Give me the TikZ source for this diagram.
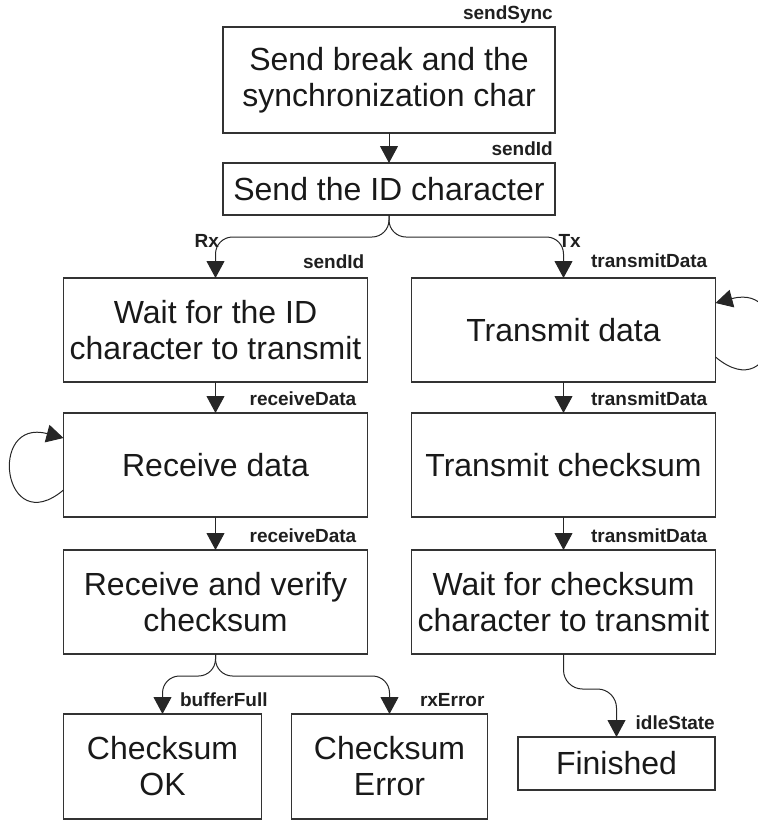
\documentclass[tikz,border=0pt]{standalone}
\usepackage{fontspec}
\setmainfont{Liberation Sans}
\usetikzlibrary{arrows.meta,positioning}

\begin{document}
\begin{tikzpicture}[x=1pt,y=1pt,
  state/.style={draw=black!80,line width=1.3pt,text=black!90,align=center,inner sep=1pt,outer sep=0pt,
    font=\fontsize{32}{36}\selectfont,minimum width=304pt,minimum height=104pt},
  lbl/.style={font=\fontsize{19}{21}\selectfont\bfseries,text=black!88,inner sep=0pt},
  toplbl/.style={lbl,anchor=base east,yshift=8pt},
  arrow/.style={-{Triangle[length=17pt,width=18pt]},line width=1pt,black!85},
  forkarrow/.style={arrow,rounded corners=17pt}]
\useasboundingbox (0,0) rectangle (758,-820);
\clip (0,0) rectangle (758,-820);
\node[state,minimum width=332pt,minimum height=106pt] (sync) at (389,-80)
  {Send break and the\\synchronization char};
\node[state,minimum width=332pt,minimum height=52pt,below=30pt of sync] (sendid) {Send the ID character};
\node[state,below=63pt of sendid,xshift=-173.5pt] (waitid) {Wait for the ID\\character to transmit};
\node[state,right=44pt of waitid] (txdata) {Transmit data};
\node[state,below=31pt of waitid] (recv) {Receive data};
\node[state,below=33pt of recv] (verify) {Receive and verify\\checksum};
\node[state,below=31pt of txdata] (txsum) {Transmit checksum};
\node[state,below=33pt of txsum] (waitsum) {Wait for checksum\\character to transmit};
\node[state,minimum width=198pt,minimum height=105pt,below=60pt of verify,xshift=-53pt] (ok) {Checksum\\OK};
\node[state,minimum width=196pt,minimum height=105pt,right=30pt of ok] (err) {Checksum\\Error};
\node[state,minimum width=197pt,minimum height=53pt,below=83pt of waitsum,xshift=53pt] (fin) {Finished};
% state names
\node[toplbl,xshift=-2pt] at (sync.north east) {sendSync};
\node[toplbl,xshift=-2pt] at (sendid.north east) {sendId};
\node[toplbl,xshift=-3pt,yshift=2pt] at (waitid.north east) {sendId};
\node[toplbl,xshift=-11pt] at (recv.north east) {receiveData};
\node[toplbl,xshift=-11pt] at (verify.north east) {receiveData};
\node[toplbl,xshift=-8pt,yshift=3pt] at (txdata.north east) {transmitData};
\node[toplbl,xshift=-8pt] at (txsum.north east) {transmitData};
\node[toplbl,xshift=-8pt] at (waitsum.north east) {transmitData};
\node[toplbl] at (fin.north east) {idleState};
% transitions
\draw[arrow] (sync) -- (sendid);
\draw[forkarrow] (sendid.south) -- ++(0,-22) -| (waitid.north)
  node[lbl,anchor=base east,xshift=4pt,yshift=31pt] {Rx};
\draw[forkarrow] (sendid.south) -- ++(0,-22) -| (txdata.north)
  node[lbl,anchor=base west,xshift=-5.5pt,yshift=31pt] {Tx};
\draw[arrow] (waitid) -- (recv);
\draw[arrow] (recv) -- (verify);
\draw[arrow] (txdata) -- (txsum);
\draw[arrow] (txsum) -- (waitsum);
\draw[arrow] ([yshift=-25pt]recv.west) to[out=-140,in=165,looseness=3.9] ([yshift=27pt]recv.west);
\draw[arrow] ([yshift=-27pt]txdata.east) to[out=-40,in=15,looseness=3.9] ([yshift=27pt]txdata.east);
\draw[forkarrow] (verify.south) -- ++(0,-22) -| (ok.north)
  node[lbl,anchor=base west,xshift=17pt,yshift=8pt] {bufferFull};
\draw[forkarrow] (verify.south) -- ++(0,-22) -| (err.north)
  node[lbl,anchor=base west,xshift=30pt,yshift=8pt] {rxError};
\draw[forkarrow,rounded corners=19pt] (waitsum.south) -- ++(0,-35) -| (fin.north);
\end{tikzpicture}
\end{document}
